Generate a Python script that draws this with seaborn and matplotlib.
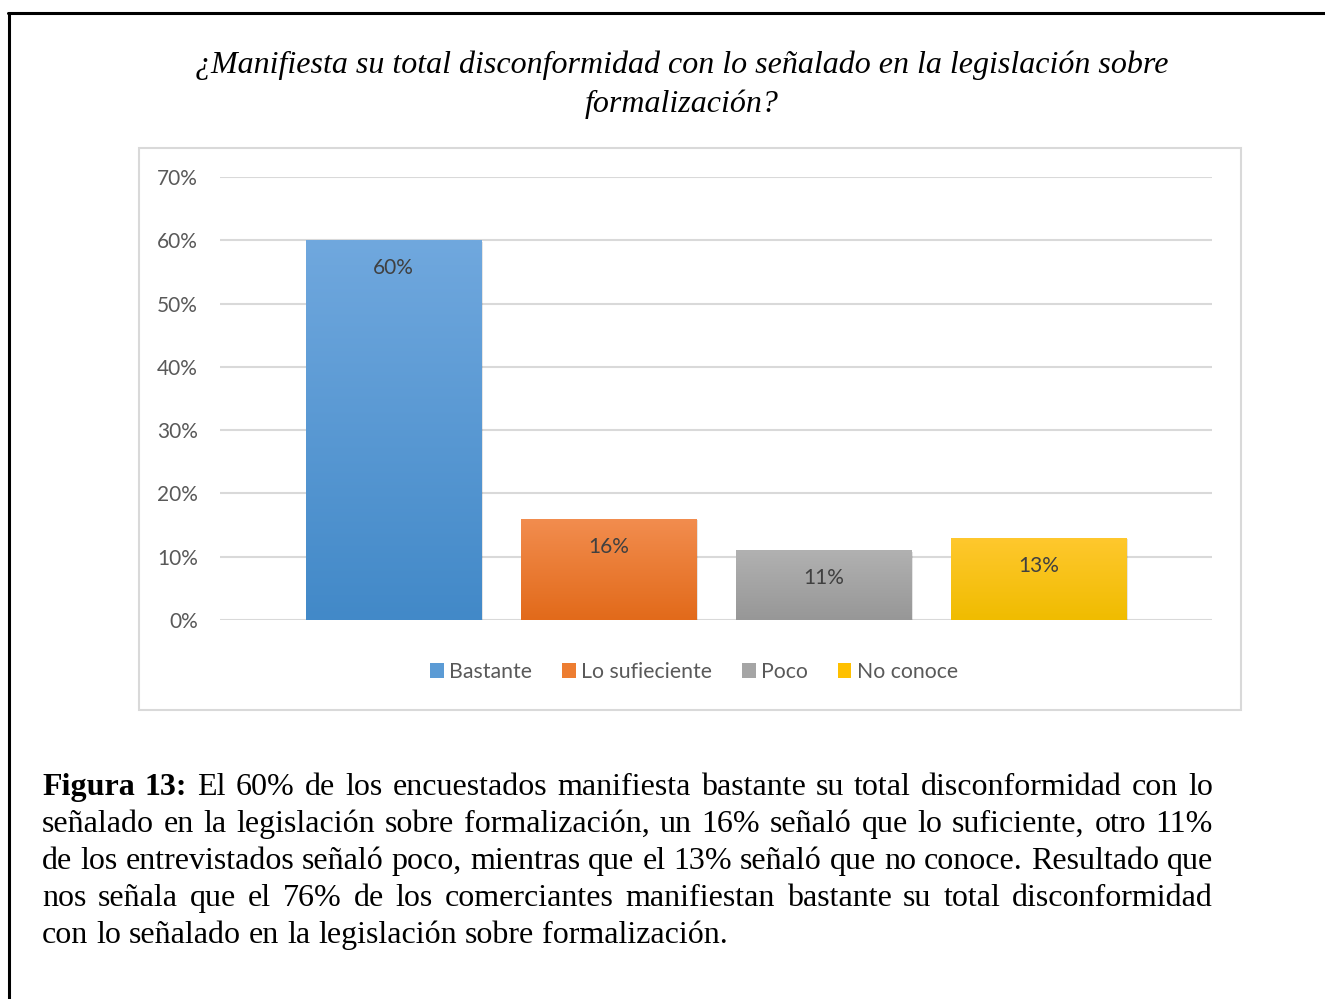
import numpy as np
import matplotlib
matplotlib.use("Agg")
import matplotlib.pyplot as plt
import seaborn as sns
import pandas as pd
from matplotlib.patches import Rectangle, Patch
from matplotlib.lines import Line2D
from matplotlib.colors import LinearSegmentedColormap

# ---------------- data ----------------
categories = ["Bastante", "Lo sufieciente", "Poco", "No conoce"]
values = [0.60, 0.16, 0.11, 0.13]
value_labels = ["60%", "16%", "11%", "13%"]
yticks = [0.0, 0.1, 0.2, 0.3, 0.4, 0.5, 0.6, 0.7]
ytick_labels = ["0%", "10%", "20%", "30%", "40%", "50%", "60%", "70%"]
title_lines = ["¿Manifiesta su total disconformidad con lo señalado en la legislación sobre",
               "formalización?"]
caption_lines = [
    [("Figura", "bold"), ("13:", "bold"), ("El 60% de los encuestados manifiesta bastante su total disconformidad con lo", "normal")],
    [("señalado en la legislación sobre formalización, un 16% señaló que lo suficiente, otro 11%", "normal")],
    [("de los entrevistados señaló poco, mientras que el 13% señaló que no conoce. Resultado que", "normal")],
    [("nos señala que el 76% de los comerciantes manifiestan bastante su total disconformidad", "normal")],
    [("con lo señalado en la legislación sobre formalización.", "normal")],
]

grad_top = ["#70a8de", "#f28d4f", "#b1b1b1", "#ffc82e"]
grad_bot = ["#4289c8", "#e26a1a", "#979797", "#f0bc00"]
mid_cols = ["#5b9bd5", "#ed7d31", "#a5a5a5", "#ffc000"]

W, H = 1325, 999
sns.set_theme(style="white")
plt.rcParams["font.family"] = ["Lato", "DejaVu Sans"]

fig = plt.figure(figsize=(W / 100, H / 100), dpi=100)

def fx(px):
    return px / W

def fy(py):
    return 1 - py / H

# outer border (top and left lines)
fig.add_artist(Line2D([fx(8), fx(1325)], [fy(13), fy(13)], color="black", lw=2.2, transform=fig.transFigure))
fig.add_artist(Line2D([fx(9), fx(9)], [fy(13), fy(999)], color="black", lw=2.2, transform=fig.transFigure))

# chart box
fig.add_artist(Rectangle((fx(139), fy(710)), fx(1241) - fx(139), fy(148) - fy(710),
                         transform=fig.transFigure, fill=False, edgecolor="#d9d9d9", lw=1.5))

# title
for i, line in enumerate(title_lines):
    fig.text(fx(682), fy(65 + 39 * i), line, ha="center", va="center",
             family=["Liberation Serif", "DejaVu Serif"], style="italic", fontsize=23, color="black")

# axes
ax_left, ax_right, ax_top, ax_bot = 220, 1212, 177, 620
ax = fig.add_axes([fx(ax_left), fy(ax_bot), fx(ax_right) - fx(ax_left), fy(ax_top) - fy(ax_bot)])
df = pd.DataFrame({"cat": categories, "val": values})
sns.barplot(data=df, x="cat", y="val", hue="cat", palette=mid_cols, width=0.814,
            dodge=False, legend=False, ax=ax, zorder=3, linewidth=0)
ax.set_ylim(0, 0.7)
ax.set_xlim(-0.807, 3.807)
ax.set_yticks(yticks)
ax.set_yticklabels(ytick_labels, fontsize=15, color="#595959")
ax.set_xticks([])
ax.set_xlabel("")
ax.set_ylabel("")
ax.tick_params(axis="y", length=0, pad=16)
for s in ax.spines.values():
    s.set_visible(False)
ax.grid(axis="y", color="#d9d9d9", lw=1.5, zorder=0)
ax.set_axisbelow(True)

# gradient fill + shadow
for i, p in enumerate(ax.patches):
    x0, w, h = p.get_x(), p.get_width(), p.get_height()
    sh = Rectangle((x0 + 0.01, -0.002), w, h, facecolor="#000000", alpha=0.10, lw=0, zorder=2)
    ax.add_patch(sh)
    cmap = LinearSegmentedColormap.from_list("g%d" % i, [grad_bot[i], grad_top[i]])
    grad = np.linspace(0, 1, 256).reshape(-1, 1)
    im = ax.imshow(grad, extent=[x0, x0 + w, 0, h], origin="lower", cmap=cmap,
                   aspect="auto", zorder=4)
    im.set_clip_path(p)
    ax.text(x0 + w / 2, h - 0.044, value_labels[i], ha="center", va="center",
            fontsize=15, color="#404040", zorder=5)
ax.set_ylim(0, 0.7)
ax.set_xlim(-0.807, 3.807)

# legend
handles = [Patch(facecolor=c, edgecolor="none") for c in mid_cols]
fig.legend(handles, categories, loc="center", bbox_to_anchor=(fx(694), fy(672)), ncol=4,
           frameon=False, fontsize=15.3, labelcolor="#595959", handlelength=0.65,
           handleheight=0.65, handletextpad=0.25, columnspacing=1.4)

# caption, justified
fig.canvas.draw()
renderer = fig.canvas.get_renderer()
cap_x0, cap_x1 = 42, 1213
base0, step = 795, 37
cap_fs = 23
for li, segs in enumerate(caption_lines):
    words = []
    for txt, wt in segs:
        for wd in txt.split(" "):
            words.append((wd, wt))
    texts = []
    widths = []
    for wd, wt in words:
        t = fig.text(0, fy(base0 + step * li), wd, ha="left", va="baseline",
                     family=["Liberation Serif", "DejaVu Serif"], fontweight=wt,
                     fontsize=cap_fs, color="black")
        bb = t.get_window_extent(renderer)
        texts.append(t)
        widths.append(bb.width)
    total = sum(widths)
    last = li == len(caption_lines) - 1
    if last or len(words) < 2:
        space_w = 0.25 * cap_fs * 100 / 72
    else:
        space_w = (cap_x1 - cap_x0 - total) / (len(words) - 1)
    xcur = cap_x0
    for t, wdt in zip(texts, widths):
        t.set_x(fx(xcur))
        xcur += wdt + space_w

fig.savefig("out.png", dpi=100)
